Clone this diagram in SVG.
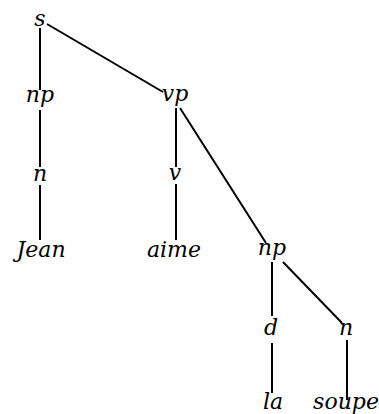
<svg xmlns="http://www.w3.org/2000/svg" width="379" height="414" viewBox="0 0 379 414">
  <style>
    .lbl { font-family: 'DejaVu Serif', serif; font-style: italic; font-size: 22px; fill: #000; text-anchor: middle; }
    .edge { stroke: #000; stroke-width: 2; fill: none; stroke-linecap: butt; }
  </style>
  <rect width="379" height="414" fill="#fff"/>
  <g id="connectors">
    <line class="edge" x1="40" y1="28" x2="40" y2="90"/>
    <line class="edge" x1="47" y1="24" x2="163" y2="92"/>
    <line class="edge" x1="40" y1="110" x2="40" y2="167"/>
    <line class="edge" x1="40" y1="185" x2="40" y2="240"/>
    <line class="edge" x1="176" y1="108" x2="176" y2="167"/>
    <line class="edge" x1="176" y1="184" x2="176" y2="240"/>
    <line class="edge" x1="180" y1="108" x2="266" y2="243"/>
    <line class="edge" x1="272" y1="262" x2="272" y2="316"/>
    <line class="edge" x1="283" y1="262" x2="342" y2="323"/>
    <line class="edge" x1="272" y1="343" x2="272" y2="393"/>
    <line class="edge" x1="347" y1="340" x2="347" y2="400"/>
  </g>
  <g id="s"><text class="lbl" x="40" y="26">s</text></g>
  <g id="np1"><text class="lbl" x="40" y="102">np</text></g>
  <g id="vp"><text class="lbl" x="175" y="101">vp</text></g>
  <g id="n1"><text class="lbl" x="40" y="181">n</text></g>
  <g id="v"><text class="lbl" x="175" y="180">v</text></g>
  <g id="jean"><text class="lbl" x="41" y="257">Jean</text></g>
  <g id="aime"><text class="lbl" x="174" y="257">aime</text></g>
  <g id="np2"><text class="lbl" x="272" y="255">np</text></g>
  <g id="d"><text class="lbl" x="271" y="335">d</text></g>
  <g id="n2"><text class="lbl" x="346" y="335">n</text></g>
  <g id="la"><text class="lbl" x="273" y="409">la</text></g>
  <g id="soupe"><text class="lbl" x="346" y="409">soupe</text></g>
</svg>
